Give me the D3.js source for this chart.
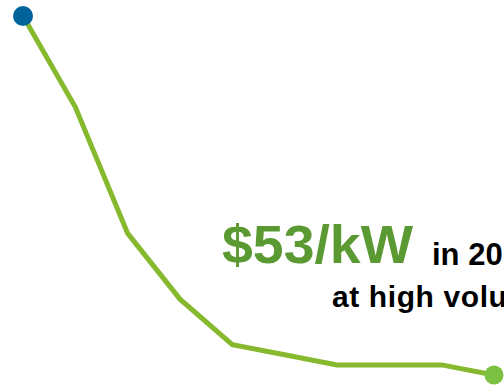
<!DOCTYPE html>
<html>
<head>
<meta charset="utf-8">
<script src="https://cdn.jsdelivr.net/npm/d3@7"></script>
<style>
  html, body { margin: 0; padding: 0; background: #fff; overflow: hidden; }
  text { font-family: "Liberation Sans", Arial, sans-serif; font-weight: bold; }
</style>
</head>
<body>
<script>
// cost per kW by year
const years = [2006, 2007, 2008, 2009, 2010, 2011, 2012, 2013, 2014, 2015];
const costs = [124, 106, 81, 68, 59, 57, 55, 55, 55, 53];

const width = 504, height = 387;

const svg = d3.select("body").append("svg")
  .attr("width", width)
  .attr("height", height);

// Scales
const xScale = d3.scalePoint().domain(years).range([23, 494]);
const yScale = d3.scaleLinear().domain([53, 124]).range([375, 16]);

const data = years.map((y, i) => ({ year: y, cost: costs[i] }));

const line = d3.line()
  .x(d => xScale(d.year))
  .y(d => yScale(d.cost));

svg.append("path")
  .datum(data)
  .attr("fill", "none")
  .attr("stroke", "#86b92e")
  .attr("stroke-width", 5)
  .attr("stroke-linejoin", "miter")
  .attr("d", line);

// start and end markers
const first = data[0], last = data[data.length - 1];
svg.append("circle")
  .attr("cx", xScale(first.year))
  .attr("cy", yScale(first.cost))
  .attr("r", 10)
  .attr("fill", "#00629b");

svg.append("circle")
  .attr("cx", xScale(last.year))
  .attr("cy", yScale(last.cost))
  .attr("r", 9.5)
  .attr("fill", "#7cc142");

// Annotation
svg.append("text")
  .attr("x", 222)
  .attr("y", 263)
  .attr("fill", "#5b9a32")
  .attr("font-size", 53)
  .attr("textLength", 191)
  .attr("lengthAdjust", "spacingAndGlyphs")
  .text(`$${last.cost}/kW`);

svg.append("text")
  .attr("x", 432)
  .attr("y", 265)
  .attr("fill", "#000")
  .attr("font-size", 31)
  .text(`in ${last.year}`);

svg.append("text")
  .attr("x", 332)
  .attr("y", 307)
  .attr("fill", "#000")
  .attr("font-size", 30)
  .attr("letter-spacing", 0.6)
  .text("at high volume");
</script>
</body>
</html>
